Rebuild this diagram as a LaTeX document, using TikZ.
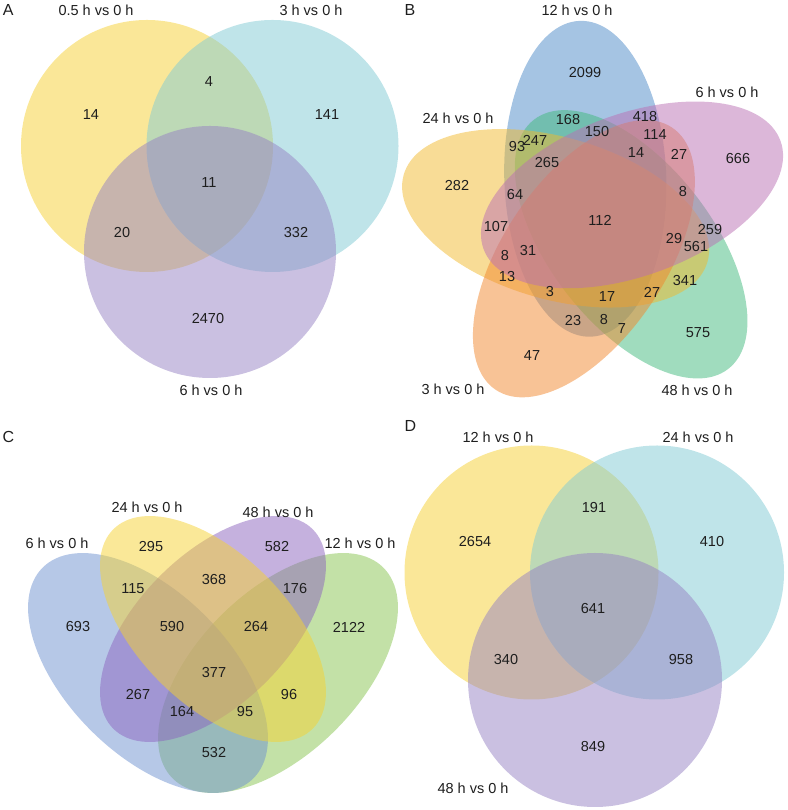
\documentclass[tikz,border=0pt]{standalone}
\usepackage{fontspec}
\setmainfont{Liberation Sans}
\definecolor{txt}{RGB}{30,30,30}
\definecolor{AYel}{RGB}{245,208,50}
\definecolor{ACya}{RGB}{128,202,212}
\definecolor{APur}{RGB}{150,130,195}
\definecolor{CBlue}{RGB}{110,145,208}
\definecolor{CYel}{RGB}{245,210,50}
\definecolor{CPur}{RGB}{140,100,190}
\definecolor{CGre}{RGB}{135,196,80}
\definecolor{BBlue}{RGB}{75,137,199}
\definecolor{BGre}{RGB}{65,185,125}
\definecolor{BYel}{RGB}{241,185,45}
\definecolor{BOra}{RGB}{241,135,45}
\definecolor{BPur}{RGB}{186,112,180}
\begin{document}
\begin{tikzpicture}[x=1pt,y=1pt,
  lbl/.style={font=\fontsize{14.5}{16}\selectfont, text=txt, inner sep=0pt},
  num/.style={font=\fontsize{14.5}{16}\selectfont, text=txt, inner sep=0pt},
  panel/.style={font=\fontsize{16}{18}\selectfont, text=txt, inner sep=0pt},
  setfill/.style={fill=#1, fill opacity=0.5, draw=none}]
\useasboundingbox (0,0) rectangle (787,810);

% ---------------- Panel A ----------------
\fill[setfill=AYel] (147,664) circle[radius=126];
\fill[setfill=ACya] (272.5,664) circle[radius=126];
\fill[setfill=APur] (210,558) circle[radius=126];
\node[panel] (pA) at (8.3,800) {A};
\node[lbl] (A1) at (96,800) {0.5 h vs 0 h};
\node[lbl] (A2) at (311,800) {3 h vs 0 h};
\node[lbl] (A3) at (211,420) {6 h vs 0 h};
\node[num] (a14) at (91,695) {14};
\node[num] (a4) at (209,728) {4};
\node[num] (a141) at (327,695) {141};
\node[num] (a11) at (209,627) {11};
\node[num] (a20) at (122,577) {20};
\node[num] (a332) at (296,577) {332};
\node[num] (a2470) at (208,491) {2470};

% ---------------- Panel B ----------------
\fill[setfill=BBlue] (585.3,631.2) ellipse[x radius=158, y radius=81, rotate=92];
\fill[setfill=BGre, rotate around={-52:(631.1,565.7)}] (631.1,565.7) ellipse[x radius=158, y radius=81];
\fill[setfill=BYel, rotate around={164:(555.6,591.7)}] (555.6,591.7) ellipse[x radius=158, y radius=81];
\fill[setfill=BOra, rotate around={-124:(583.9,551.3)}] (583.9,551.3) ellipse[x radius=158, y radius=81];
\fill[setfill=BPur, rotate around={20:(632.0,615.1)}] (632.0,615.1) ellipse[x radius=158, y radius=81];
\node[panel] (pB) at (410,799.5) {B};
\node[lbl] (B1) at (577,800) {12 h vs 0 h};
\node[lbl] (B2) at (727,718) {6 h vs 0 h};
\node[lbl] (B3) at (458,692) {24 h vs 0 h};
\node[lbl] (B4) at (453,421) {3 h vs 0 h};
\node[lbl] (B5) at (697,420) {48 h vs 0 h};
\node[num] (b2099) at (585,737) {2099};
\node[num] (b168) at (568,690) {168};
\node[num] (b150) at (597,678) {150};
\node[num] (b418) at (645,693) {418};
\node[num] (b114) at (655,675) {114};
\node[num] (b93) at (517,663) {93};
\node[num] (b247) at (535,670) {247};
\node[num] (b14) at (636,657) {14};
\node[num] (b27a) at (679,656) {27};
\node[num] (b666) at (738,651) {666};
\node[num] (b265) at (547,647) {265};
\node[num] (b282) at (457,624) {282};
\node[num] (b64) at (515,615) {64};
\node[num] (b8a) at (683,618) {8};
\node[num] (b112) at (600,590) {112};
\node[num] (b107) at (496,583) {107};
\node[num] (b259) at (710,580) {259};
\node[num] (b29) at (674,571) {29};
\node[num] (b561) at (696,563) {561};
\node[num] (b8b) at (505,554) {8};
\node[num] (b31) at (528,559) {31};
\node[num] (b13) at (507,533) {13};
\node[num] (b341) at (685,529) {341};
\node[num] (b3) at (550,518) {3};
\node[num] (b27b) at (652,518) {27};
\node[num] (b17) at (607,513) {17};
\node[num] (b23) at (573,489) {23};
\node[num] (b8c) at (604,490) {8};
\node[num] (b7) at (622,481) {7};
\node[num] (b575) at (698,477) {575};
\node[num] (b47) at (532,454) {47};

% ---------------- Panel C ----------------
\fill[setfill=CGre, rotate around={45:(278,137)}] (278,137) ellipse[x radius=149, y radius=81];
\fill[setfill=CBlue, rotate around={-45:(148,137)}] (148,137) ellipse[x radius=149, y radius=81];
\fill[setfill=CPur, rotate around={45:(213,181)}] (213,181) ellipse[x radius=141, y radius=75];
\fill[setfill=CYel, rotate around={-45:(213,181)}] (213,181) ellipse[x radius=141, y radius=75];
\node[panel] (pC) at (8.3,373) {C};
\node[lbl] (C1) at (147,303) {24 h vs 0 h};
\node[lbl] (C2) at (278,298) {48 h vs 0 h};
\node[lbl] (C3) at (57,267) {6 h vs 0 h};
\node[lbl] (C4) at (360,267) {12 h vs 0 h};
\node[num] (c295) at (151,263) {295};
\node[num] (c582) at (277,263) {582};
\node[num] (c115) at (133,221) {115};
\node[num] (c368) at (214,230) {368};
\node[num] (c176) at (295,221) {176};
\node[num] (c693) at (78,183) {693};
\node[num] (c590) at (172,183) {590};
\node[num] (c264) at (256,183) {264};
\node[num] (c2122) at (349,183) {2122};
\node[num] (c377) at (214,137) {377};
\node[num] (c267) at (138,115) {267};
\node[num] (c96) at (289,115) {96};
\node[num] (c164) at (182,98) {164};
\node[num] (c95) at (245,98) {95};
\node[num] (c532) at (214,57) {532};

% ---------------- Panel D ----------------
\fill[setfill=AYel] (531.5,237.5) circle[radius=127];
\fill[setfill=ACya] (657,237.5) circle[radius=127];
\fill[setfill=APur] (595,130) circle[radius=127];
\node[panel] (pD) at (410.5,383.5) {D};
\node[lbl] (D1) at (498,373) {12 h vs 0 h};
\node[lbl] (D2) at (698,373) {24 h vs 0 h};
\node[lbl] (D3) at (473,22) {48 h vs 0 h};
\node[num] (d2654) at (475,268) {2654};
\node[num] (d191) at (594,302) {191};
\node[num] (d410) at (712,268) {410};
\node[num] (d641) at (593,201) {641};
\node[num] (d340) at (506,150) {340};
\node[num] (d958) at (681,150) {958};
\node[num] (d849) at (593,63) {849};
\end{tikzpicture}
\end{document}
